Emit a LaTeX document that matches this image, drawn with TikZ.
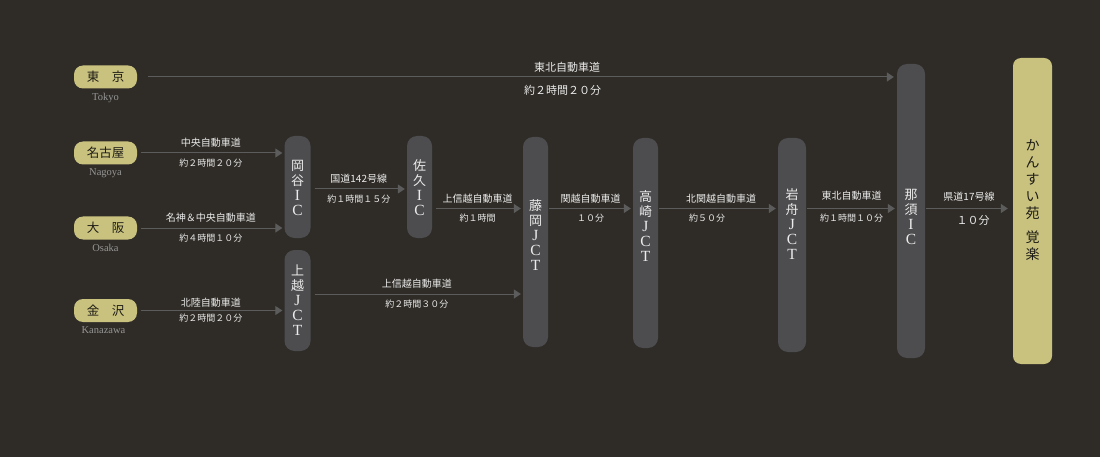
\documentclass[tikz,border=0pt]{standalone}
\usepackage{fontspec}
\setmainfont{Liberation Serif}
\newfontfamily\jp{Noto Sans CJK JP}
\newcommand\bl[1]{{\rmfamily\fontsize{15.5}{15}\selectfont #1}}
\usetikzlibrary{arrows.meta,positioning}
\definecolor{BgDark}{RGB}{47,44,39}
\definecolor{BoxGray}{RGB}{77,77,79}
\definecolor{Gold}{RGB}{201,194,127}
\definecolor{RoadGray}{RGB}{92,92,92}
\definecolor{LabelWhite}{RGB}{235,235,235}
\definecolor{RomajiGray}{RGB}{150,150,150}
\definecolor{InkDark}{RGB}{30,28,22}
\tikzset{
  city/.style={rectangle,rounded corners=9pt,fill=Gold,minimum width=63pt,minimum height=23pt,inner sep=0pt,text=InkDark,font=\jp\fontsize{12.5}{12.5}\selectfont},
  romaji/.style={inner sep=0pt,text=RomajiGray,font=\fontsize{10.5}{11}\selectfont},
  ic/.style={rectangle,rounded corners=10pt,fill=BoxGray,minimum width=26pt,inner sep=0pt},
  goal/.style={rectangle,rounded corners=8pt,fill=Gold,minimum width=39pt,minimum height=306pt,inner sep=0pt},
  vtext/.style={align=center,text=LabelWhite,inner sep=0pt,font=\jp\fontsize{13}{15}\selectfont},
  road/.style={-{Triangle[length=7pt,width=9pt]},draw=RoadGray,line width=1pt,shorten <=4pt,shorten >=2pt},
  rname/.style={text=LabelWhite,inner sep=0pt,font=\jp\fontsize{10}{10}\selectfont,yshift=10pt},
  rtime/.style={text=LabelWhite,inner sep=0pt,font=\jp\fontsize{9}{9}\selectfont,yshift=-10pt}
}

\begin{document}
\begin{tikzpicture}[x=1pt,y=-1pt]
\fill[BgDark] (0,0) rectangle (1100,457);
% departure cities
\node[city] (tokyo) at (105.5,77) {東　京};
\node[city] (nagoya) at (105.5,153) {名古屋};
\node[city] (osaka) at (105.5,228) {大　阪};
\node[city] (kanazawa) at (105.5,310.5) {金　沢};
\node[romaji,below=4pt of tokyo] (tokyoEn) {Tokyo};
\node[romaji,below=4pt of nagoya] (nagoyaEn) {Nagoya};
\node[romaji,below=4pt of osaka] (osakaEn) {Osaka};
\node[romaji,below=4pt of kanazawa,xshift=-2pt] (kanazawaEn) {Kanazawa};
% interchanges
\node[ic,minimum height=102pt] (okaya) at (297.5,187) {};
\node[vtext] (okayaT) at (297.5,188) {岡\\谷\\\bl{I}\\\bl{C}};
\node[ic,minimum height=101pt] (joetsu) at (297.5,300.5) {};
\node[vtext] (joetsuT) at (297.5,300.5) {上\\越\\\bl{J}\\\bl{C}\\\bl{T}};
\node[ic,minimum width=25pt,minimum height=102pt] (saku) at (419.5,187) {};
\node[vtext] (sakuT) at (419.5,188) {佐\\久\\\bl{I}\\\bl{C}};
\node[ic,minimum width=25pt,minimum height=210pt] (fujioka) at (535.5,242) {};
\node[vtext] (fujiokaT) at (535.5,235) {藤\\岡\\\bl{J}\\\bl{C}\\\bl{T}};
\node[ic,minimum width=25pt,minimum height=210pt] (takasaki) at (645.5,243) {};
\node[vtext] (takasakiT) at (645.5,226) {高\\崎\\\bl{J}\\\bl{C}\\\bl{T}};
\node[ic,minimum width=28pt,minimum height=214pt] (iwafune) at (792,245) {};
\node[vtext] (iwafuneT) at (792,224) {岩\\舟\\\bl{J}\\\bl{C}\\\bl{T}};
\node[ic,minimum width=28pt,minimum height=294pt] (nasu) at (911,211) {};
\node[vtext] (nasuT) at (911,217) {那\\須\\\bl{I}\\\bl{C}};
% destination
\node[goal] (kansuien) at (1032.5,211) {};
\node[vtext,text=InkDark,font=\jp\fontsize{14}{17}\selectfont] (kansuienT) at (1032.5,200) {か\\ん\\す\\い\\苑\\[7pt]覚\\楽};
% lanes
\coordinate (lane1) at (0,189);
\coordinate (lane2) at (0,208.5);
\coordinate (lane3) at (0,294);
% roads
\draw[road,shorten <=11pt,shorten >=3pt] (tokyo.east) -- node[rname,pos=0.566,font=\jp\fontsize{11}{11}\selectfont]{東北自動車道} node[rtime,pos=0.56,yshift=-3pt,font=\jp\fontsize{11}{11}\selectfont]{約２時間２０分} (nasu.west |- tokyo.east);
\draw[road] (nagoya.east) -- node[rname]{中央自動車道} node[rtime]{約２時間２０分} (okaya.west |- nagoya.east);
\draw[road] (osaka.east) -- node[rname]{名神＆中央自動車道} node[rtime]{約４時間１０分} (okaya.west |- osaka.east);
\draw[road] (kanazawa.east) -- node[rname,yshift=-2pt]{北陸自動車道} node[rtime,yshift=2pt]{約２時間２０分} (joetsu.west |- kanazawa.east);
\draw[road] (okaya.east |- lane1) -- node[rname]{国道142号線} node[rtime]{約１時間１５分} (saku.west |- lane1);
\draw[road] (saku.east |- lane2) -- node[rname]{上信越自動車道} node[rtime]{約１時間} (fujioka.west |- lane2);
\draw[road] (joetsu.east |- lane3) -- node[rname]{上信越自動車道} node[rtime]{約２時間３０分} (fujioka.west |- lane3);
\draw[road,shorten <=1pt] (fujioka.east |- lane2) -- node[rname]{関越自動車道} node[rtime]{１０分} (takasaki.west |- lane2);
\draw[road,shorten <=1pt] (takasaki.east |- lane2) -- node[rname,xshift=3pt]{北関越自動車道} node[rtime,xshift=-11pt]{約５０分} (iwafune.west |- lane2);
\draw[road,shorten <=1pt] (iwafune.east |- lane2) -- node[rname,yshift=3pt]{東北自動車道} node[rtime]{約１時間１０分} (nasu.west |- lane2);
\draw[road,shorten <=1pt,shorten >=5pt] (nasu.east |- lane2) -- node[rname,yshift=2pt]{県道17号線} node[rtime,xshift=4pt,yshift=-2pt,font=\jp\fontsize{11}{11}\selectfont]{１０分} (kansuien.west |- lane2);
\end{tikzpicture}
\end{document}
